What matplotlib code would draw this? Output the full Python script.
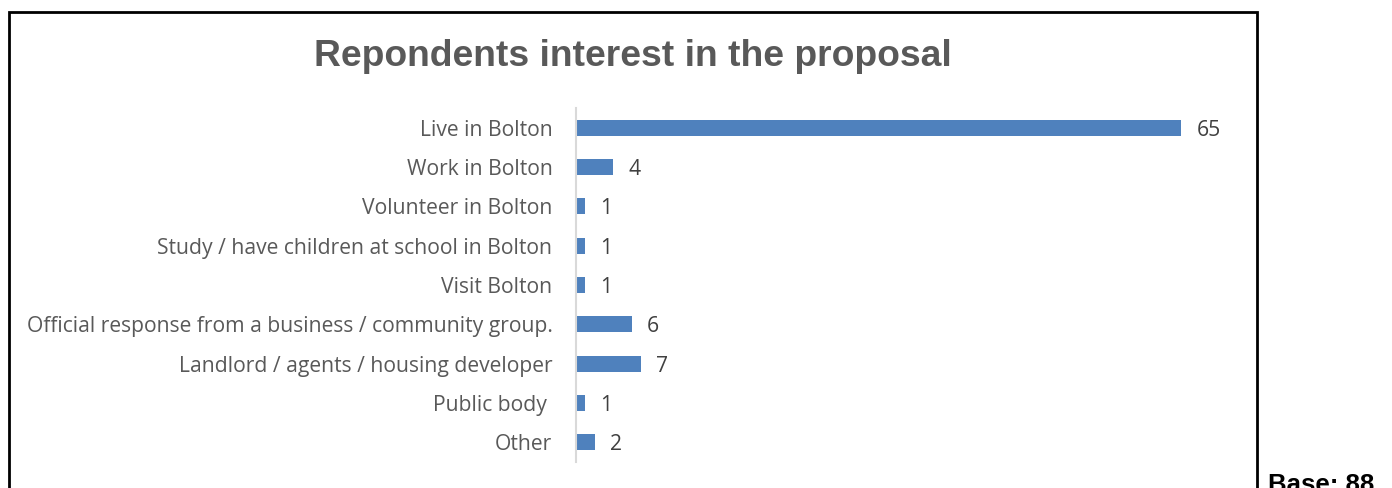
import matplotlib
matplotlib.use('Agg')
import matplotlib.pyplot as plt
from matplotlib.patches import Rectangle

# survey answers, top to bottom
categories = ['Live in Bolton', 'Work in Bolton', 'Volunteer in Bolton',
              'Study / have children at school in Bolton', 'Visit Bolton',
              'Official response from a business / community group.',
              'Landlord / agents / housing developer', 'Public body ', 'Other']
counts = [65, 4, 1, 1, 1, 6, 7, 1, 2]
base_n = 88

W, H = 1392, 488
fig = plt.figure(figsize=(W / 100, H / 100), dpi=100)

# plot area in pixels: x 576..1228, y 108..462
ax = fig.add_axes([576 / W, (H - 462) / H, (1228 - 576) / W, (462 - 108) / H])
ypos = list(range(len(categories)))
ax.barh(ypos, counts, height=0.4, color='#4F81BD', zorder=2)
ax.set_ylim(len(categories) - 0.5, -0.5)
ax.set_xlim(0, 70)

lab_font = dict(family=['Open Sans', 'DejaVu Sans'], fontsize=15.2)
ax.set_yticks(ypos)
ax.set_yticklabels(categories, color='#595959', **lab_font)
ax.tick_params(axis='y', length=0, pad=17)
ax.set_xticks([])
for s in ['top', 'right', 'bottom']:
    ax.spines[s].set_visible(False)
ax.spines['left'].set_color('#D9D9D9')
ax.spines['left'].set_linewidth(1.5)

for y, v in zip(ypos, counts):
    ax.annotate(str(v), (v, y), xytext=(11, 0), textcoords='offset points',
                va='center_baseline', ha='left', color='#404040', **lab_font)

fig.text(633 / W, (H - 66) / H, 'Repondents interest in the proposal',
         ha='center', va='baseline', fontsize=26.8, fontweight='bold',
         color='#595959', family='Liberation Sans')

# outer frame (runs off the bottom edge)
fig.patches.append(Rectangle((9 / W, -0.2), (1257 - 9) / W, (H - 12) / H + 0.2,
                             transform=fig.transFigure, fill=False,
                             edgecolor='black', linewidth=2, clip_on=False))

fig.text(1268 / W, (H - 492) / H, 'Base: %d' % base_n, ha='left', va='baseline',
         fontsize=18.5, fontweight='bold', color='black', family='Liberation Sans')

fig.savefig('out.png', dpi=100)
